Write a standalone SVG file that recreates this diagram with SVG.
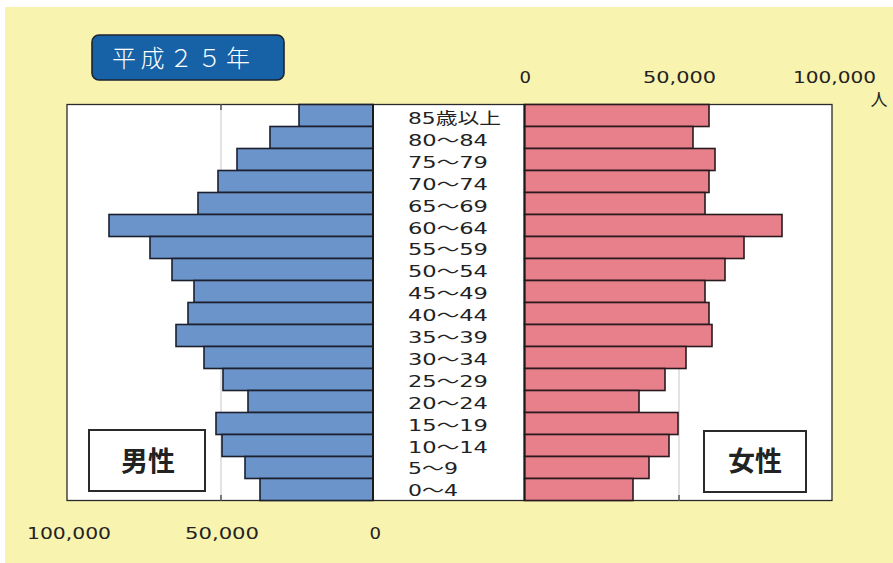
<svg xmlns="http://www.w3.org/2000/svg" width="893" height="563" viewBox="0 0 893 563">
<style>
.bg{fill:#f8f3af}
.panel{fill:#ffffff;stroke:#2a2a2a;stroke-width:1.3}
.grid{stroke:#c8c8c8;stroke-width:1}
.tick{stroke:#333;stroke-width:1.2}
.m{fill:#6b94cb;stroke:#1b1f2e;stroke-width:1.6}
.f{fill:#e7808b;stroke:#2a1a1e;stroke-width:1.6}
.axis{stroke:#1b1b1b;stroke-width:2}
.age{font-family:"DejaVu Sans","Noto Sans CJK JP",sans-serif;font-size:16px;fill:#222}
.num{font-family:"DejaVu Sans","Noto Sans CJK JP",sans-serif;font-size:16px;fill:#222}
.sex{font-family:"Noto Sans CJK JP",sans-serif;font-size:27px;font-weight:bold;fill:#222;text-anchor:middle}
.box{fill:#ffffff;stroke:#2a2a2a;stroke-width:2}
</style>
<rect class="bg" x="5" y="7" width="888" height="556"/>
<g id="title">
<rect x="92" y="35" width="192" height="45" rx="7" fill="#1761a6" stroke="#1e2430" stroke-width="1.6"/>
<text x="112" y="67" font-family="'Noto Sans CJK JP',sans-serif" font-size="24" font-weight="300" letter-spacing="4.5" fill="#ffffff">平成２５年</text>
</g>
<g id="chart-frame">
<rect class="panel" x="67" y="104.5" width="765" height="396"/>
<line class="grid" x1="221" y1="104.5" x2="221" y2="500.5"/>
<line class="grid" x1="679" y1="104.5" x2="679" y2="500.5"/>
<line class="tick" x1="221" y1="104.5" x2="221" y2="110"/>
<line class="tick" x1="221" y1="495" x2="221" y2="500.5"/>
<line class="tick" x1="679" y1="104.5" x2="679" y2="111"/>
<line class="tick" x1="679" y1="495" x2="679" y2="500.5"/>
</g>
<g id="male-bars">
<rect class="m" x="299" y="104.5" width="74" height="22"/>
<rect class="m" x="270" y="126.5" width="103" height="22"/>
<rect class="m" x="237" y="148.5" width="136" height="22"/>
<rect class="m" x="218" y="170.5" width="155" height="22"/>
<rect class="m" x="198" y="192.5" width="175" height="22"/>
<rect class="m" x="109" y="214.5" width="264" height="22"/>
<rect class="m" x="150" y="236.5" width="223" height="22"/>
<rect class="m" x="172" y="258.5" width="201" height="22"/>
<rect class="m" x="194" y="280.5" width="179" height="22"/>
<rect class="m" x="188" y="302.5" width="185" height="22"/>
<rect class="m" x="176" y="324.5" width="197" height="22"/>
<rect class="m" x="204" y="346.5" width="169" height="22"/>
<rect class="m" x="223" y="368.5" width="150" height="22"/>
<rect class="m" x="248" y="390.5" width="125" height="22"/>
<rect class="m" x="216" y="412.5" width="157" height="22"/>
<rect class="m" x="222" y="434.5" width="151" height="22"/>
<rect class="m" x="245" y="456.5" width="128" height="22"/>
<rect class="m" x="260" y="478.5" width="113" height="22"/>
<line class="axis" x1="373" y1="104.5" x2="373" y2="500.5"/>
</g>
<g id="female-bars">
<rect class="f" x="524.5" y="104.5" width="184.5" height="22"/>
<rect class="f" x="524.5" y="126.5" width="168.5" height="22"/>
<rect class="f" x="524.5" y="148.5" width="190.5" height="22"/>
<rect class="f" x="524.5" y="170.5" width="184.5" height="22"/>
<rect class="f" x="524.5" y="192.5" width="180.5" height="22"/>
<rect class="f" x="524.5" y="214.5" width="257.5" height="22"/>
<rect class="f" x="524.5" y="236.5" width="219.5" height="22"/>
<rect class="f" x="524.5" y="258.5" width="200.5" height="22"/>
<rect class="f" x="524.5" y="280.5" width="180.5" height="22"/>
<rect class="f" x="524.5" y="302.5" width="184.5" height="22"/>
<rect class="f" x="524.5" y="324.5" width="187.5" height="22"/>
<rect class="f" x="524.5" y="346.5" width="161.5" height="22"/>
<rect class="f" x="524.5" y="368.5" width="140.5" height="22"/>
<rect class="f" x="524.5" y="390.5" width="114.5" height="22"/>
<rect class="f" x="524.5" y="412.5" width="153.5" height="22"/>
<rect class="f" x="524.5" y="434.5" width="144.5" height="22"/>
<rect class="f" x="524.5" y="456.5" width="124.5" height="22"/>
<rect class="f" x="524.5" y="478.5" width="108.5" height="22"/>
<line class="axis" x1="524.5" y1="104.5" x2="524.5" y2="500.5"/>
</g>
<g id="age-labels">
<text class="age" x="408" y="124" textLength="93" lengthAdjust="spacingAndGlyphs">85歳以上</text>
<text class="age" x="408" y="145.9" textLength="80" lengthAdjust="spacingAndGlyphs">80～84</text>
<text class="age" x="408" y="167.8" textLength="80" lengthAdjust="spacingAndGlyphs">75～79</text>
<text class="age" x="408" y="189.7" textLength="80" lengthAdjust="spacingAndGlyphs">70～74</text>
<text class="age" x="408" y="211.6" textLength="80" lengthAdjust="spacingAndGlyphs">65～69</text>
<text class="age" x="408" y="233.5" textLength="80" lengthAdjust="spacingAndGlyphs">60～64</text>
<text class="age" x="408" y="255.4" textLength="80" lengthAdjust="spacingAndGlyphs">55～59</text>
<text class="age" x="408" y="277.3" textLength="80" lengthAdjust="spacingAndGlyphs">50～54</text>
<text class="age" x="408" y="299.2" textLength="80" lengthAdjust="spacingAndGlyphs">45～49</text>
<text class="age" x="408" y="321.1" textLength="80" lengthAdjust="spacingAndGlyphs">40～44</text>
<text class="age" x="408" y="343" textLength="80" lengthAdjust="spacingAndGlyphs">35～39</text>
<text class="age" x="408" y="364.9" textLength="80" lengthAdjust="spacingAndGlyphs">30～34</text>
<text class="age" x="408" y="386.8" textLength="80" lengthAdjust="spacingAndGlyphs">25～29</text>
<text class="age" x="408" y="408.7" textLength="80" lengthAdjust="spacingAndGlyphs">20～24</text>
<text class="age" x="408" y="430.6" textLength="80" lengthAdjust="spacingAndGlyphs">15～19</text>
<text class="age" x="408" y="452.5" textLength="80" lengthAdjust="spacingAndGlyphs">10～14</text>
<text class="age" x="408" y="474.4" textLength="50" lengthAdjust="spacingAndGlyphs">5～9</text>
<text class="age" x="408" y="496.3" textLength="50" lengthAdjust="spacingAndGlyphs">0～4</text>
</g>
<g id="axis-top">
<text class="num" x="519.5" y="83" textLength="11.5" lengthAdjust="spacingAndGlyphs">0</text>
<text class="num" x="643" y="83" textLength="73" lengthAdjust="spacingAndGlyphs">50,000</text>
<text class="num" x="793" y="83" textLength="83" lengthAdjust="spacingAndGlyphs">100,000</text>
<text x="879" y="106" font-family="'Noto Sans CJK JP',sans-serif" font-size="17" fill="#222" text-anchor="middle">人</text>
</g>
<g id="axis-bottom">
<text class="num" x="27" y="539" textLength="84" lengthAdjust="spacingAndGlyphs">100,000</text>
<text class="num" x="185" y="539" textLength="74" lengthAdjust="spacingAndGlyphs">50,000</text>
<text class="num" x="369.5" y="539" textLength="11.5" lengthAdjust="spacingAndGlyphs">0</text>
</g>
<g id="male-label">
<rect class="box" x="89" y="430" width="116" height="61"/>
<text class="sex" x="148" y="471">男性</text>
</g>
<g id="female-label">
<rect class="box" x="704" y="431" width="102" height="61"/>
<text class="sex" x="755" y="471">女性</text>
</g>
</svg>
